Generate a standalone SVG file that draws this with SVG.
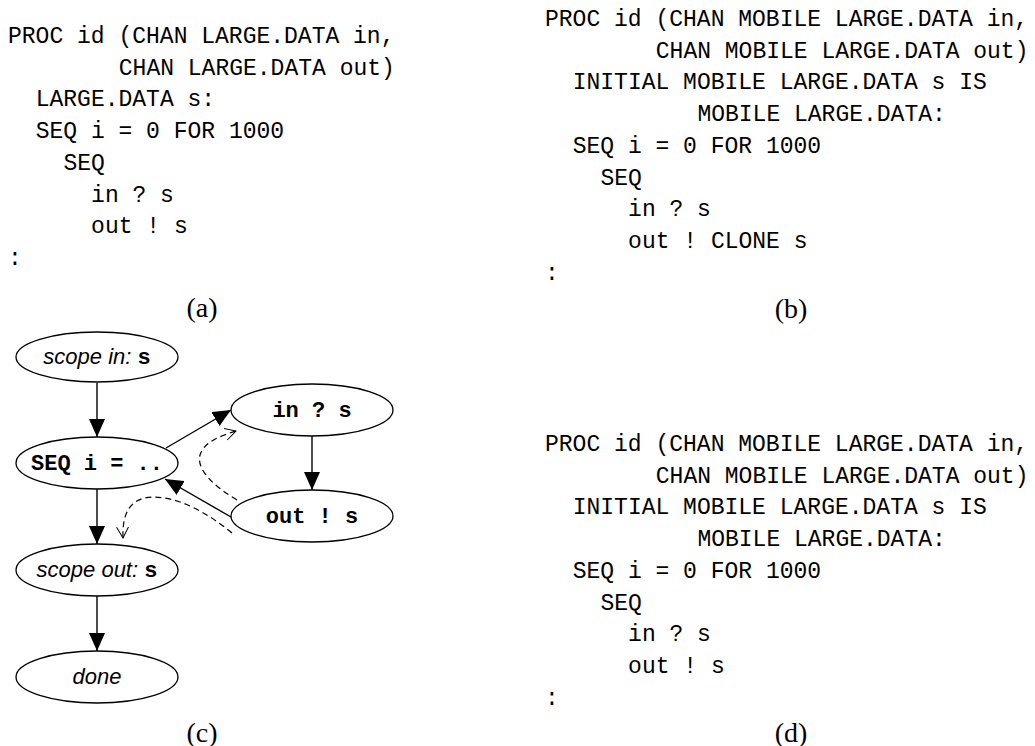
<svg xmlns="http://www.w3.org/2000/svg" width="1035" height="746" viewBox="0 0 1035 746">
<style>
.code{font-family:"Liberation Mono","DejaVu Sans Mono",monospace;font-size:23px;fill:#000}
.cap{font-family:"Liberation Serif","Times New Roman",serif;font-size:28px;fill:#000;text-anchor:middle}
.node ellipse{fill:#fff;stroke:#000;stroke-width:1.3}
.it{font-family:"Liberation Sans",Arial,sans-serif;font-style:italic;font-size:22px}
.mb{font-family:"Liberation Mono","Courier New",monospace;font-weight:bold;font-size:22px}
.lbl{text-anchor:middle;fill:#000}
.edge{fill:none;stroke:#000;stroke-width:1.4}
.dash{fill:none;stroke:#000;stroke-width:1.2;stroke-dasharray:6 4}
</style>
<defs>
<marker id="ah" markerWidth="18" markerHeight="16" refX="18" refY="8" orient="auto" markerUnits="userSpaceOnUse"><path d="M0,0 L18,8 L0,16 z" fill="#000"/></marker>
<marker id="oh" markerWidth="14" markerHeight="14" refX="11" refY="6" orient="auto" markerUnits="userSpaceOnUse"><path d="M0,0 L11,6 L0,12" fill="none" stroke="#000" stroke-width="1"/></marker>
</defs>
<rect width="1035" height="746" fill="#fff"/>

<g id="code-a" class="code">
<text x="8" y="43">PROC id (CHAN LARGE.DATA in,</text>
<text x="118.8" y="74.7">CHAN LARGE.DATA out)</text>
<text x="35.7" y="106.4">LARGE.DATA s:</text>
<text x="35.7" y="138.1">SEQ i = 0 FOR 1000</text>
<text x="63.4" y="169.8">SEQ</text>
<text x="91.1" y="201.5">in ? s</text>
<text x="91.1" y="233.2">out ! s</text>
<text x="8" y="264.9">:</text>
</g>
<text class="cap" x="202" y="317">(a)</text>

<g id="code-b" class="code">
<text x="545" y="26">PROC id (CHAN MOBILE LARGE.DATA in,</text>
<text x="655.8" y="57.7">CHAN MOBILE LARGE.DATA out)</text>
<text x="572.7" y="89.4">INITIAL MOBILE LARGE.DATA s IS</text>
<text x="697.4" y="121.1">MOBILE LARGE.DATA:</text>
<text x="572.7" y="152.8">SEQ i = 0 FOR 1000</text>
<text x="600.4" y="184.5">SEQ</text>
<text x="628.1" y="216.2">in ? s</text>
<text x="628.1" y="247.9">out ! CLONE s</text>
<text x="545" y="279.6">:</text>
</g>
<text class="cap" x="791" y="318">(b)</text>

<g id="code-d" class="code">
<text x="545" y="451">PROC id (CHAN MOBILE LARGE.DATA in,</text>
<text x="655.8" y="482.7">CHAN MOBILE LARGE.DATA out)</text>
<text x="572.7" y="514.4">INITIAL MOBILE LARGE.DATA s IS</text>
<text x="697.4" y="546.1">MOBILE LARGE.DATA:</text>
<text x="572.7" y="577.8">SEQ i = 0 FOR 1000</text>
<text x="600.4" y="609.5">SEQ</text>
<text x="628.1" y="641.2">in ? s</text>
<text x="628.1" y="672.9">out ! s</text>
<text x="545" y="704.6">:</text>
</g>
<text class="cap" x="791" y="742">(d)</text>

<g id="connectors">
<path class="edge" d="M97,383 L97,437" marker-end="url(#ah)"/>
<path class="edge" d="M166,448 L231,410" marker-end="url(#ah)"/>
<path class="edge" d="M312,436 L312,490" marker-end="url(#ah)"/>
<path class="edge" d="M231,517 L165,479" marker-end="url(#ah)"/>
<path class="edge" d="M97,489 L97,544" marker-end="url(#ah)"/>
<path class="edge" d="M97,596 L97,651" marker-end="url(#ah)"/>
<path class="dash" d="M237,500 C215,487 196,470 200,455 C204,442 220,436 236,431" marker-end="url(#oh)"/>
<path class="dash" d="M232,533 C205,511 178,497 152,497 C131,498 122,512 123,538" marker-end="url(#oh)"/>
</g>

<g id="n-scopein" class="node">
<ellipse cx="97" cy="357" rx="81" ry="25"/>
<text class="lbl" x="97" y="364"><tspan class="it">scope in: </tspan><tspan class="mb">s</tspan></text>
</g>
<g id="n-seq" class="node">
<ellipse cx="97" cy="463" rx="81" ry="26"/>
<text class="lbl mb" x="97" y="470">SEQ i = ..</text>
</g>
<g id="n-in" class="node">
<ellipse cx="312" cy="410" rx="81" ry="26"/>
<text class="lbl mb" x="312" y="417">in ? s</text>
</g>
<g id="n-out" class="node">
<ellipse cx="312" cy="516" rx="81" ry="26"/>
<text class="lbl mb" x="312" y="523">out ! s</text>
</g>
<g id="n-scopeout" class="node">
<ellipse cx="97" cy="570" rx="81" ry="26"/>
<text class="lbl" x="97" y="577"><tspan class="it">scope out: </tspan><tspan class="mb">s</tspan></text>
</g>
<g id="n-done" class="node">
<ellipse cx="97" cy="677" rx="81" ry="26"/>
<text class="lbl it" x="97" y="684">done</text>
</g>
<text class="cap" x="202" y="742">(c)</text>
</svg>
